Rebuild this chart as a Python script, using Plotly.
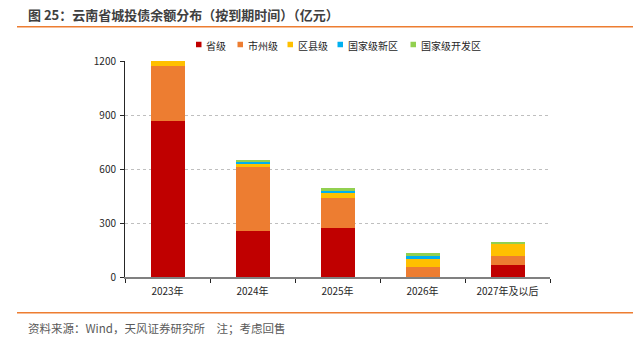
import plotly.graph_objects as go

categories = ["2023年", "2024年", "2025年", "2026年", "2027年及以后"]
series_names = ["省级", "市州级", "区县级", "国家级新区", "国家级开发区"]
provincial = [864, 257, 271, 2, 67]
city = [311, 356, 170, 56, 52]
county = [27, 17, 28, 42, 65]
new_area = [0, 10, 11, 17, 0]
dev_zone = [0, 5, 15, 15, 9]
y_ticks = [0, 300, 600, 900, 1200]

colors = ["#C00000", "#ED7D31", "#FFC000", "#00B0F0", "#92D050"]
values = [provincial, city, county, new_area, dev_zone]

FONT = "Noto Sans CJK SC, Noto Sans, sans-serif"

fig = go.Figure()
for name, vals, c in zip(series_names, values, colors):
    fig.add_trace(go.Bar(x=categories, y=vals, name=name, marker=dict(color=c, line=dict(width=0)),
                         width=0.4, showlegend=False))

# plot area pixel geometry
L, R, T, B = 125, 550, 61, 277
W, H = R - L, B - T

def px(x):
    return (x - L) / W

def py(y):
    return (B - y) / H

shapes = [
    dict(type="line", xref="paper", yref="paper", x0=px(17), x1=px(633), y0=py(26.7), y1=py(26.7),
         line=dict(color="#ED7D31", width=1.5)),
    dict(type="line", xref="paper", yref="paper", x0=px(17), x1=px(633), y0=py(312.7), y1=py(312.7),
         line=dict(color="#ED7D31", width=1.5)),
]
annotations = [
    dict(text="<b>图 25：云南省城投债余额分布（按到期时间）（亿元）</b>", xref="paper", yref="paper",
         x=px(26), y=py(14.5), xanchor="left", yanchor="middle", showarrow=False,
         font=dict(size=13, color="#404040", family=FONT)),
    dict(text="资料来源：Wind，天风证券研究所　注；考虑回售", xref="paper", yref="paper",
         x=px(26), y=py(328), xanchor="left", yanchor="middle", showarrow=False,
         font=dict(size=11.5, color="#595959", family=FONT)),
]

# manual legend (square marker + label)
legend_sq_x = [196, 237.5, 287.5, 337.5, 410.5]
sq = 5.5
for name, c, sx in zip(series_names, colors, legend_sq_x):
    shapes.append(dict(type="rect", xref="paper", yref="paper", x0=px(sx), x1=px(sx + sq),
                       y0=py(44.5 + sq / 2), y1=py(44.5 - sq / 2), fillcolor=c, line=dict(width=0)))
    annotations.append(dict(text=name, xref="paper", yref="paper", x=px(sx + sq + 2.5), y=py(45.5),
                            xanchor="left", yanchor="middle", showarrow=False,
                            font=dict(size=10, color="#262626", family=FONT)))

fig.update_layout(
    width=643, height=343,
    margin=dict(l=L, r=643 - R, t=T, b=343 - B, autoexpand=False),
    barmode="stack",
    plot_bgcolor="white", paper_bgcolor="white",
    font=dict(family=FONT, size=10, color="#262626"),
    showlegend=False,
    xaxis=dict(showline=True, linecolor="#808080", linewidth=2, ticks="outside",
               tickson="boundaries", ticklen=4, tickcolor="#262626", tickwidth=1,
               ticklabelstandoff=4,
               tickfont=dict(size=10, color="#262626"), showgrid=False),
    yaxis=dict(range=[0, 1200], tickvals=y_ticks, showline=True, linecolor="#262626", linewidth=1,
               ticks="outside", ticklen=4, tickcolor="#262626", ticklabelstandoff=2,
               showgrid=True, gridcolor="#BFBFBF", griddash="dot", gridwidth=1,
               zeroline=False, tickfont=dict(size=10, color="#262626")),
    shapes=shapes,
    annotations=annotations,
)

fig.write_html("out.html")
